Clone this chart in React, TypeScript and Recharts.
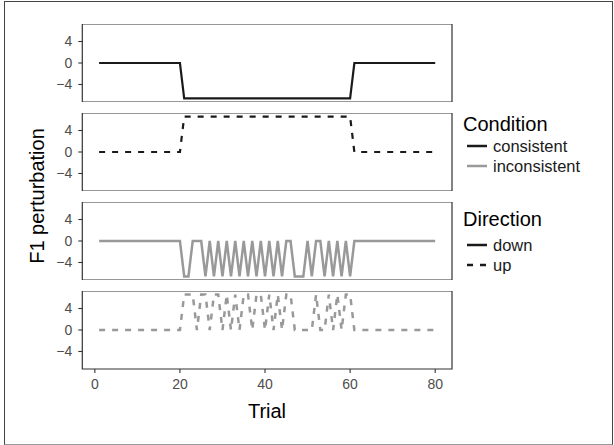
import { LineChart, Line, XAxis, YAxis, ReferenceArea } from 'recharts';

// ---- data ----
const trials = Array.from({ length: 80 }, (_, i) => i + 1);

// consistent: perturbed on trials 21-60
const consistentDown = trials.map((t) => (t >= 21 && t <= 60 ? -6.6 : 0));
const consistentUp = trials.map((t) => (t >= 21 && t <= 60 ? 6.6 : 0));

// inconsistent, trials 21..60
const inconsistentDownMid = [
  -6.6, -6.6, 0, 0, 0, -6.6, 0, -6.6, 0, -6.6,
  0, -6.6, 0, -6.6, 0, -6.6, 0, -6.6, 0, -6.6,
  0, -6.6, 0, -6.6, 0, 0, -6.6, -6.6, -6.6, 0,
  -6.6, 0, 0, -6.6, 0, -6.6, 0, -6.6, 0, -6.6,
];
const inconsistentUpMid = [
  6.6, 6.6, 6.6, 0, 6.6, 6.6, 0, 6.6, 6.6, 0,
  6.6, 0, 6.6, 0, 6.6, 6.6, 0, 6.6, 6.6, 0,
  6.6, 0, 6.6, 0, 6.6, 6.6, 0, 0, 0, 0,
  0, 6.6, 0, 0, 6.6, 0, 6.6, 0, 6.6, 6.6,
];
const inconsistentDown = trials.map((t) => (t >= 21 && t <= 60 ? inconsistentDownMid[t - 21] : 0));
const inconsistentUp = trials.map((t) => (t >= 21 && t <= 60 ? inconsistentUpMid[t - 21] : 0));

const xTicks = [0, 20, 40, 60, 80];
const yTicks = [-4, 0, 4];

const X_DOMAIN: [number, number] = [-2.95, 83.95];
const Y_DOMAIN: [number, number] = [-7.26, 7.26];

const BLACK = '#1a1a1a';
const GREY = '#999999';
const FONT = '"Liberation Sans", Arial, Helvetica, sans-serif';

const panels = [
  { values: consistentDown, color: BLACK, dashed: false },
  { values: consistentUp, color: BLACK, dashed: true },
  { values: inconsistentDown, color: GREY, dashed: false },
  { values: inconsistentUp, color: GREY, dashed: true },
];

const PANEL_TOPS = [23.7, 112.7, 201.7, 290.7];
const PANEL_H = 78;
const CHART_W = 460;
const Y_AXIS_W = 82.3;

function fmtTick(v: number) {
  return v < 0 ? `\u2212${Math.abs(v)}` : String(v);
}

function Panel({ idx }: { idx: number }) {
  const p = panels[idx];
  const last = idx === panels.length - 1;
  const data = trials.map((t, i) => ({ trial: t, value: p.values[i] }));
  return (
    <div style={{ position: 'absolute', left: 0, top: PANEL_TOPS[idx] }}>
      <LineChart
        width={CHART_W}
        height={PANEL_H + (last ? 30 : 0)}
        data={data}
        margin={{ top: 0, right: CHART_W - 452, left: 0, bottom: 0 }}
      >
        <XAxis
          dataKey="trial"
          type="number"
          domain={X_DOMAIN}
          ticks={xTicks}
          hide={!last}
          height={30}
          axisLine={false}
          tickSize={4}
          tickMargin={6}
          tickLine={{ stroke: '#333333', strokeWidth: 1.1 }}
          tick={{ fill: '#4d4d4d', fontSize: 14, fontFamily: FONT }}
        />
        <YAxis
          type="number"
          domain={Y_DOMAIN}
          ticks={yTicks}
          width={Y_AXIS_W}
          axisLine={false}
          tickSize={4}
          tickMargin={6}
          tickFormatter={fmtTick}
          tickLine={{ stroke: '#333333', strokeWidth: 1.1 }}
          tick={{ fill: '#4d4d4d', fontSize: 14, fontFamily: FONT }}
        />
        <Line
          dataKey="value"
          type="linear"
          stroke={p.color}
          strokeWidth={p.color === GREY ? 2.5 : 2.2}
          strokeDasharray={p.dashed ? '6 7' : undefined}
          dot={false}
          activeDot={false}
          isAnimationActive={false}
        />
        <ReferenceArea
          x1={X_DOMAIN[0]}
          x2={X_DOMAIN[1]}
          y1={Y_DOMAIN[0]}
          y2={Y_DOMAIN[1]}
          fill="none"
          stroke="#333333"
          strokeWidth={1.2}
          ifOverflow="visible"
        />
      </LineChart>
    </div>
  );
}

function LegendKey({ color, dashed }: { color: string; dashed?: boolean }) {
  return (
    <svg width={20} height={6} style={{ display: 'block' }}>
      <line x1={0} y1={3} x2={20} y2={3} stroke={color} strokeWidth={2.5}
        strokeDasharray={dashed ? '6 7' : undefined} />
    </svg>
  );
}

function LegendItem({ y, color, dashed, label }: { y: number; color: string; dashed?: boolean; label: string }) {
  return (
    <div style={{ position: 'absolute', left: 467, top: y - 10, height: 20, display: 'flex', alignItems: 'center' }}>
      <LegendKey color={color} dashed={dashed} />
      <span style={{ marginLeft: 6, fontSize: 16.5, color: '#1a1a1a' }}>{label}</span>
    </div>
  );
}

export default function App() {
  return (
    <div
      style={{
        position: 'absolute', left: 0, top: 0, width: 614, height: 445,
        background: '#fff', fontFamily: FONT, overflow: 'hidden',
      }}
    >
      <div style={{ position: 'absolute', left: 4, top: 1, width: 607, height: 442, border: '1px solid #444', borderBottomColor: '#999' }} />
      {panels.map((_, i) => <Panel key={i} idx={i} />)}

      <div style={{
        position: 'absolute', left: 37 - 100, top: 196 - 12, width: 200, height: 24,
        transform: 'rotate(-90deg)', textAlign: 'center', fontSize: 20, lineHeight: '24px', color: '#000',
      }}>F1 perturbation</div>
      <div style={{
        position: 'absolute', left: 167, top: 399, width: 200, height: 24,
        textAlign: 'center', fontSize: 20, lineHeight: '24px', color: '#000',
      }}>Trial</div>

      <div style={{ position: 'absolute', left: 463, top: 112, fontSize: 20, lineHeight: '24px', color: '#000' }}>Condition</div>
      <LegendItem y={146} color={BLACK} label="consistent" />
      <LegendItem y={166} color={GREY} label="inconsistent" />
      <div style={{ position: 'absolute', left: 463, top: 207, fontSize: 20, lineHeight: '24px', color: '#000' }}>Direction</div>
      <LegendItem y={245} color={BLACK} label="down" />
      <LegendItem y={265} color={BLACK} dashed label="up" />
    </div>
  );
}
